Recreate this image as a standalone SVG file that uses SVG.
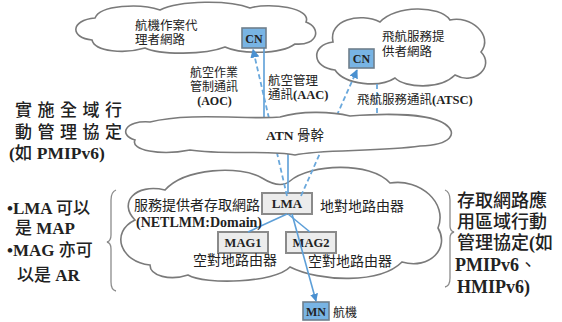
<svg xmlns="http://www.w3.org/2000/svg" width="562" height="322" viewBox="0 0 562 322">
<style>
.cloud{fill:#fff;stroke:#7a7a7a;stroke-width:1.6}
.cj{font-family:"Liberation Sans","Noto Sans CJK TC","Noto Sans CJK SC",sans-serif;fill:#222}
.lt{font-family:"Liberation Serif","Noto Sans CJK TC",serif;font-weight:bold;fill:#222}
.cn{fill:#78b4e4;stroke:#6f7f8c;stroke-width:1.6}
.gb{fill:#ececec;stroke:#8a8a8a;stroke-width:2}
.sl{fill:none;stroke:#5d9fd8;stroke-width:1.6}
.dl{fill:none;stroke:#6aa8dc;stroke-width:1.8;stroke-dasharray:5 3}
.br{fill:none;stroke:#8c8c8c;stroke-width:1.3}
.m{font-weight:500}
</style>
<defs>
<marker id="ah" viewBox="0 0 10 10" refX="9" refY="5" markerWidth="5" markerHeight="5" orient="auto-start-reverse">
<path d="M0 0L10 5L0 10z" fill="#4a90d0"/>
</marker>
</defs>
<rect width="562" height="322" fill="#fff"/>

<g id="access-cloud">
<path class="cloud" d="M150 265C120 262 110 232 135 220C118 203 135 183 165 190C185 168 240 165 262 178C275 186 284 186 290 181C310 164 370 161 390 183C420 178 448 203 438 228C450 248 430 270 402 262C380 284 320 282 290 267C275 283 205 285 188 275C170 281 150 276 150 265Z"/>
</g>
<g id="aoc-cloud">
<path class="cloud" d="M92 40C70 38 70 20 95 18C100 5 140 3 160 10C180 0 230 0 250 8C270 2 312 8 306 22C322 28 318 46 295 44C280 55 240 54 225 47C205 55 160 55 145 48C125 54 95 52 92 40Z"/>
</g>
<g id="atsc-cloud">
<path class="cloud" d="M335 70C312 68 310 45 333 42C328 20 360 12 380 22C395 5 440 5 450 20C470 15 494 35 481 52C495 66 475 86 455 75C440 90 405 88 395 78C380 88 345 85 335 70Z"/>
</g>

<g id="lma"><rect class="gb" x="262" y="193" width="50" height="21"/><text class="lt" x="287" y="207.5" font-size="13" text-anchor="middle">LMA</text></g>
<g id="mag1"><rect class="gb" x="218" y="232" width="50" height="21"/><text class="lt" x="243" y="247" font-size="12.5" text-anchor="middle">MAG1</text></g>
<g id="mag2"><rect class="gb" x="286" y="232" width="50" height="21"/><text class="lt" x="311" y="247" font-size="12.5" text-anchor="middle">MAG2</text></g>

<g id="connectors">
<path class="sl" d="M264 48L264 122L288 152L288 193"/>
<path class="dl" d="M287 196L253 49.5" marker-end="url(#ah)"/>
<path class="dl" d="M301 196L357 70" marker-end="url(#ah)"/>
<path class="dl" d="M377 84L377 120"/>
<path class="sl" d="M287 214L248 232"/>
<path class="sl" d="M288 214L310 232"/>
<path class="sl" d="M292 214L316 301" marker-end="url(#ah)"/>
</g>

<g id="atn-cloud">
<path class="cloud" d="M135 140C118 135 125 120 150 122C190 112 250 120 280 117C300 111 330 111 350 116C390 113 430 114 445 124C458 133 452 145 420 146C380 152 320 149 295 155C270 150 220 155 190 150C160 156 130 150 135 140Z"/>
<text x="295" y="140" font-size="13.5" text-anchor="middle"><tspan class="lt">ATN </tspan><tspan class="cj">骨幹</tspan></text>
</g>

<g id="cn1"><rect class="cn" x="242" y="28" width="24" height="20"/><text class="lt" x="254" y="42.5" font-size="12" text-anchor="middle">CN</text></g>
<g id="cn2"><rect class="cn" x="349" y="49" width="25" height="19"/><text class="lt" x="361.5" y="63" font-size="12" text-anchor="middle">CN</text></g>
<g id="mn"><rect class="cn" x="303" y="302" width="26" height="18"/><text class="lt" x="316" y="315.5" font-size="12" text-anchor="middle">MN</text><text class="cj" x="333" y="317" font-size="12">航機</text></g>

<g id="labels">
<text class="cj" font-size="12.5"><tspan x="135" y="29.5">航機作案代</tspan><tspan x="135" y="43.5">理者網路</tspan></text>
<text class="cj" font-size="12.5"><tspan x="382" y="40.5">飛航服務提</tspan><tspan x="382" y="55.5">供者網路</tspan></text>
<text font-size="12" text-anchor="middle"><tspan class="cj" x="214" y="76.5">航空作業</tspan><tspan class="cj" x="214" y="90.5">管制通訊</tspan><tspan class="lt" x="214.5" y="104.5">(AOC)</tspan></text>
<text font-size="12.5"><tspan class="cj" x="268" y="84.5">航空管理</tspan><tspan class="cj" x="268" y="98.5">通訊</tspan><tspan class="lt">(AAC)</tspan></text>
<text x="357" y="103.5" font-size="12.5"><tspan class="cj">飛航服務通訊</tspan><tspan class="lt">(ATSC)</tspan></text>
<text font-size="14"><tspan class="cj" x="134" y="210">服務提供者存取網路</tspan><tspan class="lt" x="136" y="227">(NETLMM:Domain)</tspan></text>
<text class="cj" x="320" y="211" font-size="14">地對地路由器</text>
<text class="cj" x="193" y="265" font-size="14">空對地路由器</text>
<text class="cj" x="308" y="266" font-size="14">空對地路由器</text>
</g>

<g id="note-left-top">
<text font-size="17"><tspan class="cj m" x="15" y="116" letter-spacing="5.5">實施全域行</tspan><tspan class="cj m" x="15" y="138" letter-spacing="5.5">動管理協定</tspan><tspan x="9" y="159" font-size="17.5"><tspan class="lt">(</tspan><tspan class="cj m">如</tspan><tspan class="lt"> PMIPv6)</tspan></tspan></text>
</g>

<g id="note-left-bottom">
<path class="br" d="M116 190Q111 192 111 200L111 235Q111 241 107 242Q111 243 111 249L111 282Q111 290 116 291"/>
<text font-size="17"><tspan class="lt" x="7" y="214">•LMA </tspan><tspan class="cj m">可以</tspan><tspan class="cj m" x="15" y="234">是</tspan><tspan class="lt"> MAP</tspan><tspan class="lt" x="7" y="256">•MAG </tspan><tspan class="cj m">亦可</tspan><tspan class="cj m" x="17" y="281">以是</tspan><tspan class="lt"> AR</tspan></text>
</g>

<g id="note-right">
<path class="br" d="M445 190Q450 192 450 200L450 226Q450 231 454 232Q450 233 450 238L450 278Q450 286 445 287"/>
<text font-size="18"><tspan class="cj m" x="457" y="207">存取網路應</tspan><tspan class="cj m" x="457" y="228">用區域行動</tspan><tspan class="cj m" x="457" y="249">管理協定</tspan><tspan class="lt">(</tspan><tspan class="cj m">如</tspan><tspan class="lt" x="455" y="271">PMIPv6</tspan><tspan class="cj">、</tspan><tspan class="lt" x="457" y="293">HMIPv6)</tspan></text>
</g>
</svg>
